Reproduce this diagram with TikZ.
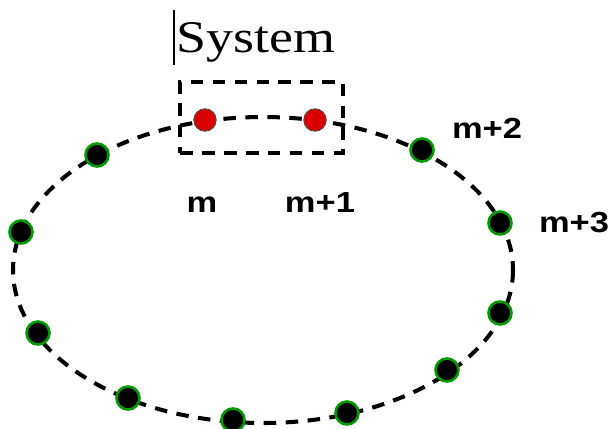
\documentclass[tikz,border=0pt]{standalone}
\usepackage{graphicx}
\usepackage{fontspec}
\setmainfont{Liberation Serif}
\newfontfamily\lblfont{Liberation Sans}
\usepackage{tikz}
\usetikzlibrary{positioning}
\newcommand{\wide}[1]{\scalebox{1.19}[1]{#1}}

\begin{document}
\begin{tikzpicture}[
  x=0.02cm, y=-0.02cm,
  ring/.style={draw,line width=2.3pt,dash pattern=on 0.25cm off 0.19cm},
  site/.style={circle,draw=green!60!black,line width=1.5pt,fill=black,minimum size=0.46cm,inner sep=0pt},
  sys/.style={circle,draw=black!70,line width=0.5pt,fill=red!85!black,minimum size=0.45cm,inner sep=0pt},
  lbl/.style={anchor=base,font=\lblfont\bfseries\fontsize{16.5}{18}\selectfont},
]
\useasboundingbox (0,0) rectangle (612,429);

% ===== chain =====
\draw[ring] (263,270) ellipse [x radius=250, y radius=153];

% ===== system box =====
\node[ring,minimum width=3.26cm,minimum height=1.42cm] (box) at (261.5,117.5) {};
\node[sys] (m)  at (205,120) {};
\node[sys] (m1) at (315,120) {};
\node[anchor=base,font=\fontsize{25.8}{28}\selectfont] (title) at (256,53) {\wide{System}};
\draw[line width=0.8pt] (174,10) -- (174,65);

% ===== other sites =====
\node[site] (s2)  at (422,150) {};
\node[site] (s3)  at (500,223) {};
\node[site] (s4)  at (500,313) {};
\node[site] (s5)  at (447,370) {};
\node[site] (s6)  at (347,413) {};
\node[site] (s7)  at (233,420) {};
\node[site] (s8)  at (128,398) {};
\node[site] (s9)  at (38,333) {};
\node[site] (s10) at (21,232) {};
\node[site] (s11) at (97,155) {};

% ===== labels =====
\node[lbl] (lm)  at (202,213) {\wide{m}};
\node[lbl] (lm1) at (320,213) {\wide{m+1}};
\node[lbl] (lm2) at (487,138) {\wide{m+2}};
\node[lbl] (lm3) at (574,232) {\wide{m+3}};
\end{tikzpicture}
\end{document}
